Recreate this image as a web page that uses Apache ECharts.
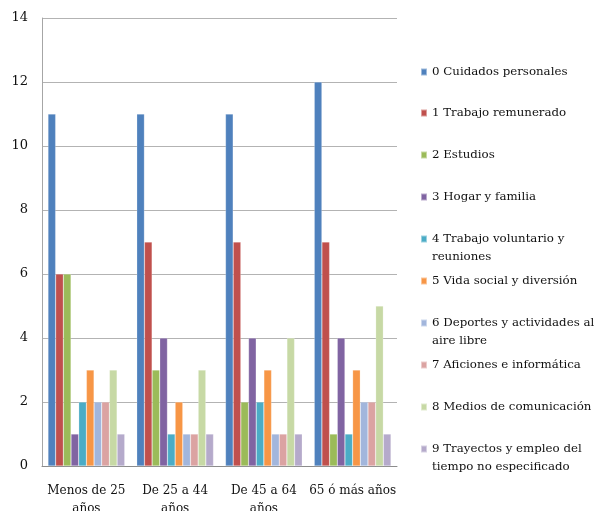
<!DOCTYPE html>
<html>
<head>
<meta charset="utf-8">
<script src="https://cdn.jsdelivr.net/npm/echarts@6/dist/echarts.min.js"></script>
<style>
  html, body { margin: 0; padding: 0; background: #fff; }
  #chart { width: 595px; height: 511px; }
</style>
</head>
<body>
<div id="chart"></div>
<script>
// Age groups on the category axis
const categories = ['Menos de 25\naños', 'De 25 a 44\naños', 'De 45 a 64\naños', '65 ó más años'];

// Activity series (hours per day, by age group)
const seriesNames = [
  '0 Cuidados personales',
  '1 Trabajo remunerado',
  '2 Estudios',
  '3 Hogar y familia',
  '4 Trabajo voluntario y reuniones',
  '5 Vida social y diversión',
  '6 Deportes y actividades al aire libre',
  '7 Aficiones e informática',
  '8 Medios de comunicación',
  '9 Trayectos y empleo del tiempo no especificado'
];
const legendLabels = [
  '0 Cuidados personales',
  '1 Trabajo remunerado',
  '2 Estudios',
  '3 Hogar y familia',
  '4 Trabajo voluntario y\nreuniones',
  '5 Vida social y diversión',
  '6 Deportes y actividades al\naire libre',
  '7 Aficiones e informática',
  '8 Medios de comunicación',
  '9 Trayectos y empleo del\ntiempo no especificado'
];

const cuidados      = [11, 11, 11, 12];
const trabajo       = [6, 7, 7, 7];
const estudios      = [6, 3, 2, 1];
const hogar         = [1, 4, 4, 4];
const voluntario    = [2, 1, 2, 1];
const vidaSocial    = [3, 2, 3, 3];
const deportes      = [2, 1, 1, 2];
const aficiones     = [2, 1, 1, 2];
const medios        = [3, 3, 4, 5];
const trayectos     = [1, 1, 1, 1];

const yTicks = { min: 0, max: 14, interval: 2 };

const values = [cuidados, trabajo, estudios, hogar, voluntario, vidaSocial, deportes, aficiones, medios, trayectos];
const colors = ['#4F81BD', '#C0504D', '#9BBB59', '#8064A2', '#4BACC6', '#F79646',
                '#A2B6DC', '#DBA3A2', '#C7D9A5', '#B5AACB'];

const FONT = 'DejaVu Serif';

// One legend block per entry so each can sit at its own row.
// Wrapped entries get a blank leading line so the first line stays level with the swatch.
const legendRowCenters = [72, 113, 155, 197, 239, 281, 323, 365, 407, 449];
const legends = seriesNames.map((name, i) => {
  const twoLines = legendLabels[i].indexOf('\n') >= 0;
  const label = twoLines ? '\n' + legendLabels[i] : legendLabels[i];
  return {
    data: [name],
    orient: 'vertical',
    left: 420,
    top: legendRowCenters[i] - (twoLines ? 27 : 9),
    padding: 0,
    itemWidth: 6,
    itemHeight: 7,
    icon: 'rect',
    selectedMode: false,
    formatter: () => label,
    textStyle: {
      fontFamily: FONT,
      fontSize: 11.8,
      color: '#111',
      lineHeight: 18
    }
  };
});

const chart = echarts.init(document.getElementById('chart'), null, { renderer: 'canvas' });
chart.setOption({
  animation: false,
  color: colors,
  legend: legends,
  grid: { left: 42, right: 198, top: 18, bottom: 45, containLabel: false, outerBoundsMode: 'none' },
  xAxis: {
    type: 'category',
    data: categories,
    axisLine: { lineStyle: { color: '#8c8c8c', width: 1 } },
    axisTick: { show: false },
    axisLabel: {
      fontFamily: FONT,
      fontSize: 12,
      color: '#111',
      margin: 16,
      lineHeight: 18,
      interval: 0
    }
  },
  yAxis: {
    type: 'value',
    min: yTicks.min,
    max: yTicks.max,
    interval: yTicks.interval,
    axisLine: { show: true, lineStyle: { color: '#a6a6a6', width: 1 } },
    axisTick: { show: false },
    splitLine: { lineStyle: { color: '#b3b3b3', width: 1 } },
    axisLabel: {
      fontFamily: FONT,
      fontSize: 13,
      color: '#111',
      margin: 14
    }
  },
  series: seriesNames.map((name, i) => ({
    name: name,
    type: 'bar',
    data: values[i],
    barGap: '0%',
    barCategoryGap: '13.5%',
    itemStyle: { borderColor: 'rgba(255,255,255,0.45)', borderWidth: 0.5 }
  }))
});
</script>
</body>
</html>
